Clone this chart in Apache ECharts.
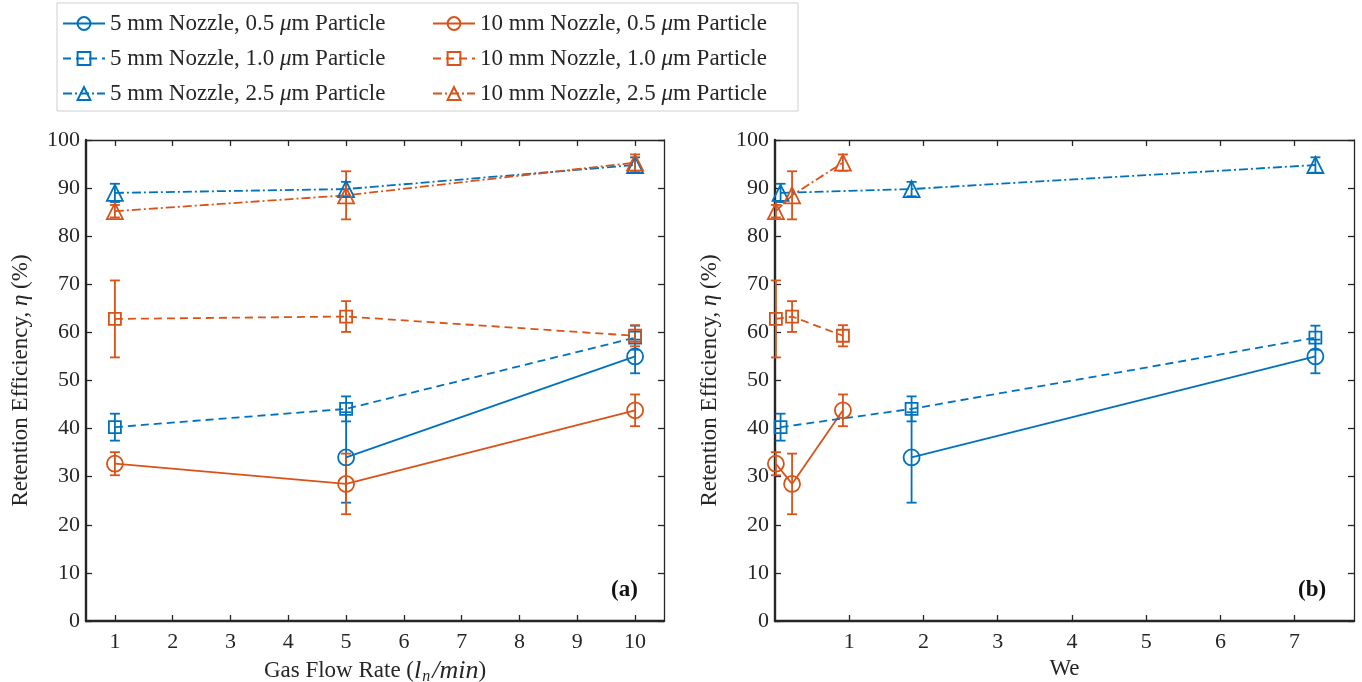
<!DOCTYPE html>
<html>
<head>
<meta charset="utf-8">
<script src="https://cdn.jsdelivr.net/npm/echarts@6/dist/echarts.min.js"></script>
<style>
  html, body { margin: 0; padding: 0; background: #fff; }
  #chart { width: 1362px; height: 682px; }
</style>
</head>
<body>
<div id="chart"></div>
<script>
// x positions
var flowRate = [1, 5, 10];          // l_n/min, panel (a)
var we5mm = [0.075, 1.84, 7.28];    // We for 5 mm nozzle, panel (b)
var we10mm = [0.012, 0.23, 0.915];  // We for 10 mm nozzle, panel (b)

// retention efficiency (%) and error half-widths
var eta5_05 = [null, 34.0, 55.0];
var err5_05 = [null, 9.4, 3.5];
var eta5_10 = [40.3, 44.1, 58.9];
var err5_10 = [2.8, 2.6, 2.5];
var eta5_25 = [89.0, 89.8, 94.8];
var err5_25 = [1.9, 1.5, 1.6];
var eta10_05 = [32.7, 28.5, 43.8];
var err10_05 = [2.4, 6.3, 3.3];
var eta10_10 = [62.8, 63.3, 59.3];
var err10_10 = [8.0, 3.2, 2.2];
var eta10_25 = [85.2, 88.5, 95.3];
var err10_25 = [1.3, 5.0, 1.7];

var ticksA = [1, 2, 3, 4, 5, 6, 7, 8, 9, 10];
var ticksB = [1, 2, 3, 4, 5, 6, 7];

var BLUE = '#0072BD', ORANGE = '#D95319';
var FONT = 'Liberation Serif';
var AXC = '#262626';

// 各组数据的样式
var groups = [
    { name: '5 mm Nozzle, 0.5 \u03bcm Particle', y: eta5_05, e: err5_05, nozzle: 5, color: BLUE, symbol: 'circle', size: 16, dash: 'solid' },
    { name: '10 mm Nozzle, 0.5 \u03bcm Particle', y: eta10_05, e: err10_05, nozzle: 10, color: ORANGE, symbol: 'circle', size: 16, dash: 'solid' },
    { name: '5 mm Nozzle, 1.0 \u03bcm Particle', y: eta5_10, e: err5_10, nozzle: 5, color: BLUE, symbol: 'rect', size: 12, dash: [8, 5] },
    { name: '10 mm Nozzle, 1.0 \u03bcm Particle', y: eta10_10, e: err10_10, nozzle: 10, color: ORANGE, symbol: 'rect', size: 12, dash: [8, 5] },
    { name: '5 mm Nozzle, 2.5 \u03bcm Particle', y: eta5_25, e: err5_25, nozzle: 5, color: BLUE, symbol: 'triangle', size: 16, dash: [9, 3, 2, 3] },
    { name: '10 mm Nozzle, 2.5 \u03bcm Particle', y: eta10_25, e: err10_25, nozzle: 10, color: ORANGE, symbol: 'triangle', size: 16, dash: [9, 3, 2, 3] }
];

function pairs(xs, ys) {
    var out = [];
    for (var i = 0; i < xs.length; i++) {
        if (ys[i] != null) out.push([xs[i], ys[i]]);
    }
    return out;
}
function triples(xs, ys, es) {
    var out = [];
    for (var i = 0; i < xs.length; i++) {
        if (ys[i] != null) out.push([xs[i], ys[i], es[i]]);
    }
    return out;
}

// 误差棒
function renderErr(params, api) {
    var x = api.value(0), y = api.value(1), e = api.value(2);
    var top = api.coord([x, y + e]);
    var bot = api.coord([x, y - e]);
    var w = 5;
    var st = { stroke: api.visual('color'), lineWidth: 1.8 };
    return {
        type: 'group',
        children: [
            { type: 'line', shape: { x1: top[0], y1: top[1], x2: bot[0], y2: bot[1] }, style: st },
            { type: 'line', shape: { x1: top[0] - w, y1: top[1], x2: top[0] + w, y2: top[1] }, style: st },
            { type: 'line', shape: { x1: bot[0] - w, y1: bot[1], x2: bot[0] + w, y2: bot[1] }, style: st }
        ]
    };
}

var series = [];
var errSeries = [];
[0, 1].forEach(function (panel) {
    groups.forEach(function (g) {
        var xs = panel === 0 ? flowRate : (g.nozzle === 5 ? we5mm : we10mm);
        series.push({
            name: g.name,
            type: 'line',
            xAxisIndex: panel * 2,
            yAxisIndex: panel * 2,
            data: pairs(xs, g.y),
            symbol: g.symbol,
            symbolSize: g.symbol === 'rect' ? [g.size, g.size] : g.size,
            showAllSymbol: true,
            lineStyle: { color: g.color, width: 1.8, type: g.dash },
            itemStyle: { color: 'rgba(255,255,255,0)', borderColor: g.color, borderWidth: 1.8 },
            emphasis: { disabled: true },
            z: 3
        });
        errSeries.push({
            name: 'err ' + g.name,
            type: 'custom',
            xAxisIndex: panel * 2,
            yAxisIndex: panel * 2,
            data: triples(xs, g.y, g.e),
            itemStyle: { color: g.color },
            renderItem: renderErr,
            silent: true,
            z: 2
        });
    });
});

var tickLabel = { fontFamily: FONT, fontSize: 22, color: AXC };

function bottomAxis(grid, min, max, ticks, name) {
    return {
        type: 'value', gridIndex: grid, position: 'bottom', min: min, max: max,
        name: name, nameLocation: 'middle', nameGap: 35,
        nameTextStyle: { fontFamily: FONT, fontSize: 23, color: AXC, rich: {
            it: { fontFamily: FONT, fontSize: 26, fontStyle: 'italic', color: AXC },
            sub: { fontFamily: FONT, fontSize: 16, fontStyle: 'italic', color: AXC, padding: [12, 2, 0, 1] }
        } },
        splitLine: { show: false },
        axisLine: { onZero: false, lineStyle: { color: AXC, width: 2.4 } },
        axisTick: { inside: true, length: 6, customValues: ticks, lineStyle: { color: AXC, width: 1.3 } },
        axisLabel: Object.assign({ margin: 10, customValues: ticks }, tickLabel)
    };
}
function topAxis(grid, min, max, ticks) {
    return {
        type: 'value', gridIndex: grid, position: 'top', min: min, max: max,
        splitLine: { show: false },
        axisLine: { onZero: false, lineStyle: { color: AXC, width: 1.3 } },
        axisTick: { inside: true, length: 6, customValues: ticks, lineStyle: { color: AXC, width: 1.3 } },
        axisLabel: { show: false }
    };
}
function leftAxis(grid) {
    return {
        type: 'value', gridIndex: grid, position: 'left', min: 0, max: 100, interval: 10,
        name: 'Retention Efficiency, {it|\u03b7} (%)', nameLocation: 'middle', nameGap: 54,
        nameTextStyle: { fontFamily: FONT, fontSize: 23, color: AXC, rich: {
            it: { fontFamily: FONT, fontSize: 23, fontStyle: 'italic', color: AXC }
        } },
        splitLine: { show: false },
        axisLine: { onZero: false, lineStyle: { color: AXC, width: 2.4 } },
        axisTick: { inside: true, length: 6, lineStyle: { color: AXC, width: 1.3 } },
        axisLabel: Object.assign({ margin: 6 }, tickLabel)
    };
}
function rightAxis(grid) {
    return {
        type: 'value', gridIndex: grid, position: 'right', min: 0, max: 100, interval: 10,
        splitLine: { show: false },
        axisLine: { onZero: false, lineStyle: { color: AXC, width: 1.3 } },
        axisTick: { inside: true, length: 6, lineStyle: { color: AXC, width: 1.3 } },
        axisLabel: { show: false }
    };
}

var option = {
    animation: false,
    backgroundColor: '#fff',
    legend: {
        left: 57, top: 3,
        width: 750,
        padding: [8, 6, 5, 5],
        itemGap: 10, itemWidth: 42, itemHeight: 16,
        borderColor: '#cfcfcf', borderWidth: 1,
        formatter: function (name) { return name.replace('\u03bc', '{it|\u03bc}'); },
        textStyle: { fontFamily: FONT, fontSize: 23, color: AXC, lineHeight: 25, width: 312,
            rich: { it: { fontFamily: FONT, fontSize: 23, fontStyle: 'italic', color: AXC } } },
        data: groups.map(function (g) { return g.name; }),
        selectedMode: false
    },
    title: [
        { text: '(a)', left: 606, top: 574, textStyle: { fontFamily: FONT, fontSize: 23, fontWeight: 'bold', color: '#111' } },
        { text: '(b)', left: 1293, top: 574, textStyle: { fontFamily: FONT, fontSize: 23, fontWeight: 'bold', color: '#111' } }
    ],
    grid: [
        { left: 86, top: 140, width: 578, height: 481, outerBoundsMode: 'none' },
        { left: 775, top: 140, width: 579, height: 481, outerBoundsMode: 'none' }
    ],
    xAxis: [
        bottomAxis(0, 0.5, 10.5, ticksA, 'Gas Flow Rate ({it|l}{sub|n}{it|/min})'),
        topAxis(0, 0.5, 10.5, ticksA),
        bottomAxis(1, 0, 7.8, ticksB, 'We'),
        topAxis(1, 0, 7.8, ticksB)
    ],
    yAxis: [leftAxis(0), rightAxis(0), leftAxis(1), rightAxis(1)],
    series: series.concat(errSeries)
};

var chart = echarts.init(document.getElementById('chart'), null, { renderer: 'canvas' });
chart.setOption(option);
</script>
</body>
</html>
